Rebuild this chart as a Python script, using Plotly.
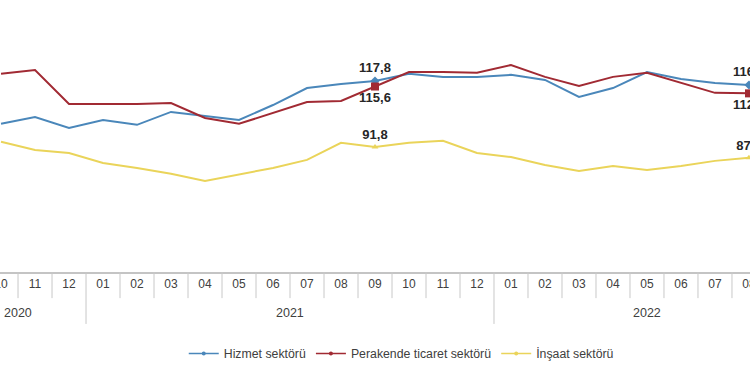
import plotly.graph_objects as go

# ---- data ----
months = ["10", "11", "12", "01", "02", "03", "04", "05", "06", "07", "08", "09",
          "10", "11", "12", "01", "02", "03", "04", "05", "06", "07", "08"]
years = ["2020", "2021", "2022"]
# first / last category index of each year group (groups extend past the visible crop)
year_first = [-1, 3, 15]
year_last = [2, 14, 23]

hizmet = [100.9, 103.6, 99.3, 102.4, 100.5, 105.6, 104.0, 102.4, 108.3, 115.0, 116.6, 117.8,
          120.6, 119.4, 119.4, 120.2, 118.2, 111.5, 115.0, 121.3, 118.6, 117.0, 116.2]
perakende = [120.6, 122.1, 108.7, 108.7, 108.7, 109.1, 103.2, 100.9, 105.2, 109.5, 109.9, 115.6,
             121.3, 121.3, 121.0, 124.1, 119.4, 115.8, 119.4, 121.0, 117.0, 113.1, 112.9]
insaat = [93.8, 90.6, 89.4, 85.5, 83.5, 81.2, 78.4, 80.8, 83.5, 86.7, 93.4, 91.8,
          93.4, 94.2, 89.4, 87.8, 84.7, 82.3, 84.3, 82.7, 84.3, 86.3, 87.5]

series_names = ["Hizmet sektörü", "Perakende ticaret sektörü", "İnşaat sektörü"]
labelled_idx = [11, 22]

x = list(range(len(months)))

colors = ["#4a87ba", "#a12a33", "#ead45a"]
symbols = ["diamond", "square", "triangle-up"]
msizes = [7, 8, 6]
text_pos = ["top center", "bottom center", "top center"]


def fmt(v):
    return f"{v:.1f}".replace(".", ",")


fig = go.Figure()

all_series = [hizmet, perakende, insaat]
for name, vals, col, sym, ms, tp in zip(series_names, all_series, colors, symbols, msizes, text_pos):
    fig.add_trace(go.Scatter(x=x, y=vals, mode="lines", line=dict(color=col, width=2),
                             showlegend=False, hoverinfo="skip"))
    fig.add_trace(go.Scatter(x=[x[i] for i in labelled_idx], y=[vals[i] for i in labelled_idx],
                             mode="markers+text", marker=dict(color=col, symbol=sym, size=ms),
                             text=[fmt(vals[i]) for i in labelled_idx], textposition=tp,
                             textfont=dict(family="Liberation Sans, Arial", size=13, color="#262626",
                                           weight="bold"),
                             showlegend=False, cliponaxis=False))
    # legend entry
    fig.add_trace(go.Scatter(x=[None], y=[None], mode="lines+markers", name=name,
                             line=dict(color=col, width=1.5), marker=dict(color=col, size=4, symbol="circle")))

# separators between categories
shapes = []
for k in range(len(months) + 1):
    long = k < len(months) and months[k] == "01"
    shapes.append(dict(type="line", xref="x", yref="paper", x0=k - 0.5, x1=k - 0.5,
                       y0=0, y1=-0.191 if long else -0.096,
                       line=dict(color="#c8c8c8", width=1)))

annotations = []
for yr, a, b in zip(years, year_first, year_last):
    annotations.append(dict(x=(a + b) / 2, y=-0.151, xref="x", yref="paper", text=yr,
                            showarrow=False, yanchor="middle",
                            font=dict(family="Liberation Sans, Arial", size=12.5, color="#404040")))

fig.update_layout(
    width=750, height=375,
    margin=dict(l=0, r=0, t=0, b=103, autoexpand=False),
    paper_bgcolor="white", plot_bgcolor="white",
    font=dict(family="Liberation Sans, Arial", color="#404040"),
    xaxis=dict(range=[-0.03, 22.03], tickvals=x, ticktext=months, showgrid=False, zeroline=False,
               showline=True, linecolor="#c4c4c4", linewidth=1.5, ticks="",
               ticklabeloverflow="allow", automargin=False,
               tickfont=dict(size=12, color="#404040"), fixedrange=True),
    yaxis=dict(range=[42.5, 149.7], visible=False, showgrid=False, fixedrange=True, automargin=False),
    shapes=shapes,
    annotations=annotations,
    legend=dict(orientation="h", x=0.535, xanchor="center", y=-0.3, yanchor="middle",
                font=dict(size=12.3, color="#404040"), bgcolor="rgba(0,0,0,0)"),
    showlegend=True,
)

fig.write_html("out.html", config={"displayModeBar": False},
               post_script="document.body.style.margin='0';document.body.style.overflow='hidden';")
